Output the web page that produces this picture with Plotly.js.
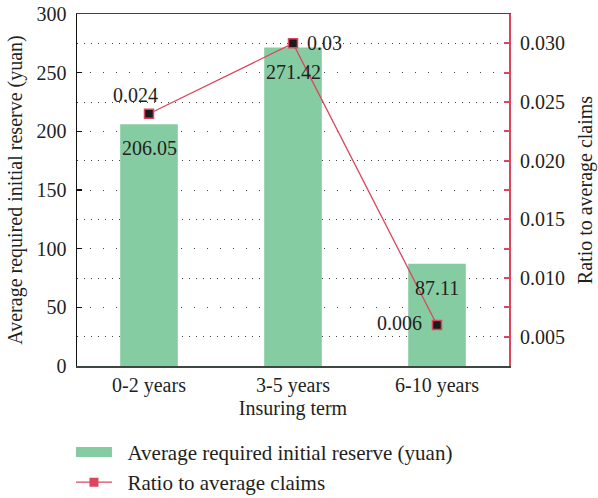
<!DOCTYPE html>
<html>
<head>
<meta charset="utf-8">
<script src="https://cdn.plot.ly/plotly-3.0.1.min.js"></script>
<style>
  html, body { margin: 0; padding: 0; background: #ffffff; }
  #chart { width: 598px; height: 498px; }
</style>
</head>
<body>
<div id="chart"></div>
<script>
// Insuring term categories
const terms = ['0-2 years', '3-5 years', '6-10 years'];
// Average required initial reserve (yuan), left axis
const reserve = [206.05, 271.42, 87.11];
// Ratio to average claims, right axis
const ratio = [0.024, 0.03, 0.006];
// Text shown next to each ratio point
const ratioLabels = ['0.024', '0.03', '0.006'];

const GREEN = '#86cca3';
const RED = '#dc465c';
const FONT = '"Liberation Serif", "Times New Roman", serif';
const TXT = '#231f20';
const FS = 20;
const PAD = '\u00a0\u00a0';

const barTrace = {
  type: 'bar',
  x: terms,
  y: reserve,
  width: 0.4,
  marker: { color: GREEN, line: { width: 0 } },
  showlegend: false,
  hoverinfo: 'skip'
};

const ratioTrace = {
  type: 'scatter',
  mode: 'lines+markers',
  x: terms,
  y: ratio,
  yaxis: 'y2',
  line: { color: RED, width: 1.3 },
  marker: { symbol: 'square', size: 9, color: '#1a1a1a', line: { color: RED, width: 1.5 } },
  showlegend: false,
  hoverinfo: 'skip'
};

// Legend entries (no data of their own)
const barKey = {
  type: 'scatter', mode: 'lines', x: [null], y: [null],
  name: PAD + 'Average required initial reserve (yuan)',
  line: { color: GREEN, width: 15 }
};
const ratioKey = {
  type: 'scatter', mode: 'lines+markers', x: [null], y: [null], yaxis: 'y2',
  name: PAD + 'Ratio to average claims',
  line: { color: RED, width: 1.3 },
  marker: { symbol: 'square', size: 9, color: RED }
};

// Value labels inside the bars and beside the ratio points
const annotations = [];
terms.forEach((t, i) => {
  annotations.push({
    x: t, y: reserve[i], xref: 'x', yref: 'y',
    text: reserve[i].toFixed(2), showarrow: false,
    yanchor: 'middle', yshift: -24,
    font: { family: FONT, size: FS, color: TXT }
  });
});
const ratioPos = [
  { xanchor: 'center', xshift: -14, yshift: 19 },
  { xanchor: 'left', xshift: 12, yshift: 0 },
  { xanchor: 'right', xshift: -13, yshift: 2 }
];
terms.forEach((t, i) => {
  annotations.push(Object.assign({
    x: t, y: ratio[i], xref: 'x', yref: 'y2',
    text: ratioLabels[i], showarrow: false, yanchor: 'middle',
    font: { family: FONT, size: FS, color: TXT }
  }, ratioPos[i]));
});

const layout = {
  width: 598,
  height: 498,
  margin: { l: 77, r: 89, t: 14, b: 132, autoexpand: false },
  paper_bgcolor: '#ffffff',
  plot_bgcolor: '#ffffff',
  font: { family: FONT, size: FS, color: TXT },
  xaxis: {
    type: 'category',
    showline: true, mirror: true,
    linecolor: '#3d4740', linewidth: 1.5,
    ticks: '', showgrid: false,
    tickfont: { family: FONT, size: FS, color: TXT },
    title: { text: 'Insuring term', font: { family: FONT, size: FS, color: TXT }, standoff: 4 }
  },
  yaxis: {
    range: [0, 300], dtick: 50, tick0: 0,
    showline: true, linecolor: '#111', linewidth: 1.5,
    ticks: 'inside', ticklen: 5, tickcolor: '#111', tickwidth: 1.2,
    ticklabelstandoff: 5,
    showgrid: true, gridcolor: '#444', gridwidth: 1, griddash: '1px,12px',
    zeroline: false,
    tickfont: { family: FONT, size: FS, color: TXT },
    title: { text: 'Average required initial reserve (yuan)', font: { family: FONT, size: FS, color: TXT }, standoff: 8 }
  },
  yaxis2: {
    overlaying: 'y', side: 'right',
    range: [0.0025, 0.0325], dtick: 0.005, tick0: 0, tickformat: '.3f',
    showline: true, linecolor: RED, linewidth: 2,
    ticks: 'inside', ticklen: 5, tickcolor: RED, tickwidth: 2,
    ticklabelstandoff: 5,
    minor: { dtick: 0.0025, ticks: 'inside', ticklen: 5, tickcolor: RED, tickwidth: 2, showgrid: false },
    showgrid: true, gridcolor: '#444', gridwidth: 1, griddash: '1px,6px',
    zeroline: false,
    tickfont: { family: FONT, size: FS, color: TXT },
    title: { text: 'Ratio to average claims', font: { family: FONT, size: FS, color: TXT }, standoff: 14 }
  },
  legend: {
    orientation: 'v',
    x: -0.014, xanchor: 'left',
    yref: 'container', y: 0.133, yanchor: 'top',
    font: { family: FONT, size: 21, color: TXT },
    bgcolor: 'rgba(0,0,0,0)',
    itemwidth: 36,
    tracegroupgap: 10
  },
  annotations: annotations
};

Plotly.newPlot('chart', [barTrace, ratioTrace, barKey, ratioKey], layout, { staticPlot: true, displayModeBar: false });
</script>
</body>
</html>
